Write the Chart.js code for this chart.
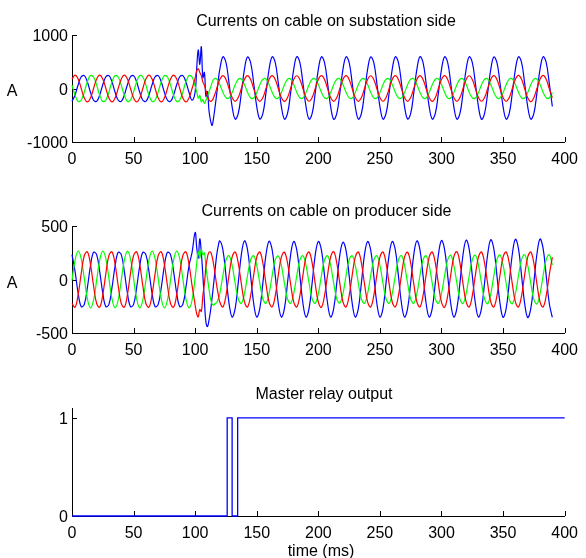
<!DOCTYPE html>
<html>
<head>
<meta charset="utf-8">
<script src="https://cdn.jsdelivr.net/npm/chart.js@4.4.0/dist/chart.umd.min.js"></script>
<style>
body { margin: 0; background: #fff; }
#fig { position: relative; width: 586px; height: 558px; overflow: hidden; font-family: "Liberation Sans", Arial, sans-serif; font-size: 16px; color: #000; }
#fig canvas { position: absolute; left: 0; }
.lbl { position: absolute; transform: translate(-50%, -50%); white-space: nowrap; line-height: 1; }
</style>
</head>
<body>
<div id="fig">
  <canvas id="subChart" width="586" height="170" style="top:0px"></canvas>
  <canvas id="prodChart" width="586" height="190" style="top:170px"></canvas>
  <canvas id="relayChart" width="586" height="188" style="top:370px"></canvas>
  <div class="lbl" style="left:326px;top:20.5px">Currents on cable on substation side</div>
  <div class="lbl" style="left:12px;top:90.5px">A</div>
  <div class="lbl" style="left:326.5px;top:211px">Currents on cable on producer side</div>
  <div class="lbl" style="left:12px;top:283px">A</div>
  <div class="lbl" style="left:324px;top:394px">Master relay output</div>
  <div class="lbl" style="left:321px;top:551px">time (ms)</div>
</div>
<script>
// before the fault: 0..97.5 ms every 2.5 ms (one row = one 20 ms cycle)
// fault window: 100..118.75 ms every 1.25 ms
// after the fault: 120..390 ms every 2.5 ms
var stepMs = 2.5;
var faultStartMs = 100;
var faultStepMs = 1.25;
var postStartMs = 120;

// substation side
var subRedPre = [
  177, 250, 177, 0, -177, -250, -177, 0,
  177, 250, 177, 0, -177, -250, -177, 0,
  177, 250, 177, 0, -177, -250, -177, 0,
  177, 250, 177, 0, -177, -250, -177, 0,
  177, 250, 177, 0, -177, -250, -177, 0
];
var subRedFault = [200, 330, 370, 300, 240, 120, 60, -40, -150, -215, -240, -222, -170, -92, 0, 92];
var subRedPost = [
  170, 240, 170, 0, -170, -240, -170, 0,
  170, 242, 170, 0, -170, -240, -170, 0,
  170, 240, 170, 0, -170, -242, -170, 0,
  168, 238, 168, 0, -168, -238, -168, 0,
  170, 240, 170, 0, -170, -240, -170, 0,
  170, 240, 170, 0, -170, -240, -170, 0,
  168, 238, 168, 0, -168, -238, -168, 0,
  170, 240, 170, 0, -170, -240, -170, 0,
  170, 242, 170, 0, -170, -242, -170, 0,
  170, 240, 170, 0, -170, -240, -170, 0,
  168, 238, 168, 0, -168, -238, -168, 0,
  170, 240, 170, 0, -170, -240, -170, 0,
  172, 244, 172, 0, -172, -244, -172, 0,
  172, 244, 172, 0, -170
];

var subGreenPre = [
  62, -127, -242, -215, -62, 127, 242, 215,
  62, -127, -242, -215, -62, 127, 242, 215,
  62, -127, -242, -215, -62, 127, 242, 215,
  62, -127, -242, -215, -62, 127, 242, 215,
  62, -127, -242, -215, -62, 127, 242, 215
];
var subGreenFault = [40, -60, -180, -130, -250, -210, -280, -220, -150, -60, 20, 110, 170, 190, 177, 136];
var subGreenPost = [
  75, -70, -174, -177, -75, 70, 174, 177,
  75, -70, -174, -177, -75, 70, 174, 177,
  75, -70, -172, -177, -75, 70, 174, 177,
  75, -70, -174, -177, -75, 70, 172, 177,
  75, -70, -174, -177, -75, 70, 174, 177,
  75, -70, -174, -180, -75, 70, 174, 177,
  75, -70, -174, -177, -75, 70, 174, 177,
  75, -70, -174, -177, -75, 70, 174, 180,
  75, -70, -174, -177, -75, 70, 174, 177,
  75, -70, -176, -177, -75, 70, 174, 177,
  75, -70, -174, -177, -75, 70, 174, 177,
  75, -70, -174, -177, -75, 70, 176, 177,
  75, -70, -174, -177, -75, 70, 174, 177,
  75, -70, -174, -177, -75
];

var subBluePre = [
  -240, -121, 70, 219, 240, 121, -70, -219,
  -240, -121, 70, 219, 240, 121, -70, -219,
  -240, -121, 70, 219, 240, 121, -70, -219,
  -240, -121, 70, 219, 240, 121, -70, -219,
  -240, -121, 70, 219, 240, 121, -70, -219
];
var subBlueFault = [-60, 380, 720, 450, 780, 200, 300, -150, -60, -420, -600, -690, -540, -330, -100, 150];
var subBluePost = [
  357, 593, 487, 102, -337, -573, -467, -82,
  357, 590, 487, 102, -337, -570, -467, -82,
  357, 593, 487, 102, -337, -573, -467, -82,
  357, 596, 487, 102, -337, -573, -467, -82,
  357, 593, 487, 102, -337, -576, -467, -82,
  357, 593, 487, 102, -337, -573, -467, -82,
  357, 590, 487, 102, -337, -573, -467, -82,
  357, 593, 487, 102, -337, -570, -467, -82,
  357, 596, 487, 102, -337, -573, -467, -82,
  357, 593, 487, 102, -337, -573, -467, -82,
  357, 593, 487, 102, -337, -576, -467, -82,
  357, 590, 487, 102, -337, -573, -467, -82,
  357, 593, 487, 102, -337, -573, -467, -82,
  357, 593, 487, 102, -337
];

// producer side
var prodRedPre = [
  -224, -259, -142, 58, 224, 259, 142, -58,
  -224, -259, -142, 58, 224, 259, 142, -58,
  -224, -259, -142, 58, 224, 259, 142, -58,
  -224, -259, -142, 58, 224, 259, 142, -58,
  -224, -259, -142, 58, 224, 259, 142, -58
];
var prodRedFault = [-240, -320, -350, -280, -300, -150, -40, 120, 210, 255, 255, 215, 140, 46, -58, -140];
var prodRedPost = [
  -210, -257, -153, 41, 210, 257, 153, -41,
  -210, -257, -153, 41, 210, 257, 153, -41,
  -210, -255, -153, 41, 210, 255, 153, -41,
  -210, -257, -153, 41, 210, 257, 153, -41,
  -212, -260, -153, 41, 212, 260, 153, -41,
  -210, -257, -153, 41, 210, 257, 153, -41,
  -210, -257, -153, 41, 210, 257, 153, -41,
  -210, -255, -153, 41, 210, 255, 153, -41,
  -210, -257, -153, 41, 210, 257, 153, -41,
  -212, -260, -153, 41, 212, 260, 153, -41,
  -210, -257, -153, 41, 210, 257, 153, -41,
  -210, -257, -153, 41, 210, 257, 153, -41,
  -210, -257, -153, 41, 210, 257, 153, -41,
  -210, -257, -153, 41, 210
];

var prodGreenPre = [
  -8, 182, 265, 193, 8, -182, -265, -193,
  -8, 182, 265, 193, 8, -182, -265, -193,
  -8, 182, 265, 193, 8, -182, -265, -193,
  -8, 182, 265, 193, 8, -182, -265, -193,
  -8, 182, 265, 193, 8, -182, -265, -193
];
var prodGreenFault = [20, 150, 260, 200, 280, 230, 250, 120, 10, -90, -180, -230, -240, -225, -215, -180];
var prodGreenPost = [
  -132, 35, 182, 222, 132, -35, -182, -222,
  -132, 35, 182, 222, 132, -35, -182, -222,
  -132, 35, 182, 220, 132, -35, -182, -222,
  -132, 35, 182, 222, 132, -35, -182, -222,
  -132, 35, 182, 222, 132, -35, -182, -220,
  -132, 35, 182, 222, 132, -35, -182, -222,
  -132, 35, 182, 222, 132, -35, -182, -222,
  -132, 35, 182, 224, 132, -35, -182, -222,
  -132, 35, 182, 222, 132, -35, -182, -222,
  -132, 35, 184, 226, 132, -35, -184, -224,
  -132, 35, 184, 228, 134, -35, -184, -226,
  -134, 35, 186, 230, 134, -35, -186, -226,
  -134, 35, 186, 232, 134, -35, -186, -228,
  -134, 35, 186, 232, 134
];

var prodBluePre = [
  232, 74, -128, -254, -232, -74, 128, 254,
  232, 74, -128, -254, -232, -74, 128, 254,
  232, 74, -128, -254, -232, -74, 128, 254,
  232, 74, -128, -254, -232, -74, 128, 254,
  232, 74, -128, -254, -232, -74, 128, 254
];
var prodBlueFault = [440, 300, 200, 380, 250, 40, -200, -400, -440, -380, -290, -170, -40, 100, 230, 315];
var prodBluePost = [
  361, 280, 39, -222, -351, -270, -29, 232,
  361, 280, 39, -222, -351, -270, -29, 232,
  358, 278, 39, -222, -351, -270, -29, 230,
  356, 276, 39, -222, -351, -270, -29, 230,
  356, 276, 39, -222, -351, -270, -29, 232,
  348, 272, 39, -222, -351, -270, -29, 232,
  356, 276, 39, -222, -351, -270, -29, 232,
  356, 276, 39, -222, -351, -270, -29, 232,
  361, 280, 39, -222, -351, -270, -29, 232,
  365, 282, 39, -222, -351, -270, -29, 234,
  368, 284, 39, -222, -351, -270, -29, 236,
  372, 286, 39, -222, -353, -272, -29, 236,
  376, 288, 39, -222, -355, -272, -29, 238,
  378, 290, 39, -222, -355
];

// relay output switches
var relayTimes = [0, 126, 130, 134.5, 400];
var relayOut = [0, 1, 0, 1, 1];

var xTickStep = 50;
var subTicks = [-1000, 0, 1000];
var prodTicks = [-500, 0, 500];
var relayTicks = [0, 1];

var fontFamily = '"Liberation Sans", Arial, sans-serif';
Chart.defaults.font.family = fontFamily;
Chart.defaults.font.size = 16;
Chart.defaults.color = '#000';

function series(pre, fault, post) {
  var pts = pre.map(function(v, i) { return { x: i * stepMs, y: v }; });
  fault.forEach(function(v, i) { pts.push({ x: faultStartMs + i * faultStepMs, y: v }); });
  post.forEach(function(v, i) { pts.push({ x: postStartMs + i * stepMs, y: v }); });
  return pts;
}

function line(pts, color) {
  return { data: pts, borderColor: color, borderWidth: 1.2, pointRadius: 0, tension: 0.4, clip: false };
}

// MATLAB style: ticks point into the axes, y labels sit a bit low
var matlabAxes = {
  id: 'matlabAxes',
  beforeDatasetsDraw: function(chart) {
    var ctx = chart.ctx, xs = chart.scales.x, ys = chart.scales.y, area = chart.chartArea;
    ctx.save();
    ctx.strokeStyle = '#000';
    ctx.lineWidth = 1;
    ctx.beginPath();
    xs.ticks.forEach(function(tk, i) {
      var px = Math.round(xs.getPixelForTick(i)) + 0.5;
      ctx.moveTo(px, area.bottom);
      ctx.lineTo(px, area.bottom - 5);
    });
    ys.ticks.forEach(function(tk, i) {
      var py = Math.round(ys.getPixelForTick(i)) + 0.5;
      ctx.moveTo(area.left, py);
      ctx.lineTo(area.left + 5, py);
    });
    ctx.stroke();
    ctx.fillStyle = '#000';
    ctx.font = '16px ' + fontFamily;
    ctx.textAlign = 'right';
    ctx.textBaseline = 'middle';
    ys.ticks.forEach(function(tk) {
      ctx.fillText(String(tk.value), area.left - 4, ys.getPixelForValue(tk.value) + 2);
    });
    ctx.restore();
  }
};

function makeChart(id, datasets, yMin, yMax, yTicks, padTop, xHeight) {
  return new Chart(document.getElementById(id), {
    type: 'line',
    data: { datasets: datasets },
    options: {
      responsive: false,
      animation: false,
      devicePixelRatio: 1,
      layout: { padding: { top: padTop, right: 15, bottom: 0, left: 0 } },
      plugins: { legend: { display: false }, tooltip: { enabled: false } },
      scales: {
        x: {
          type: 'linear', min: 0, max: 400,
          ticks: { stepSize: xTickStep, maxRotation: 0, padding: 8, color: '#000' },
          grid: { display: false, drawTicks: false },
          border: { display: true, color: '#000', width: 1 },
          afterFit: function(s) { s.height = xHeight; }
        },
        y: {
          type: 'linear', min: yMin, max: yMax,
          afterBuildTicks: function(s) { s.ticks = yTicks.map(function(v) { return { value: v }; }); },
          ticks: { display: false },
          grid: { display: false, drawTicks: false },
          border: { display: true, color: '#000', width: 1 },
          afterFit: function(s) { s.width = 72; }
        }
      }
    },
    plugins: [matlabAxes]
  });
}

makeChart('subChart', [
  line(series(subRedPre, subRedFault, subRedPost), '#ff0000'),
  line(series(subGreenPre, subGreenFault, subGreenPost), '#00ff00'),
  line(series(subBluePre, subBlueFault, subBluePost), '#0000ff')
], -1000, 1000, subTicks, 35, 28);

makeChart('prodChart', [
  line(series(prodRedPre, prodRedFault, prodRedPost), '#ff0000'),
  line(series(prodGreenPre, prodGreenFault, prodGreenPost), '#00ff00'),
  line(series(prodBluePre, prodBlueFault, prodBluePost), '#0000ff')
], -500, 500, prodTicks, 56, 27);

var relay = {
  data: relayTimes.map(function(t, i) { return { x: t, y: relayOut[i] }; }),
  borderColor: '#0000ff', borderWidth: 1.3, pointRadius: 0, stepped: true, clip: false
};
makeChart('relayChart', [relay], 0, 1.1, relayTicks, 38, 42);
</script>
</body>
</html>
